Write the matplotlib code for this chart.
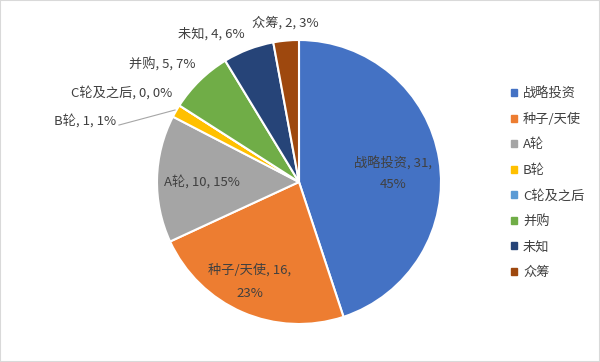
import matplotlib.pyplot as plt
from matplotlib.patches import Rectangle

plt.rcParams['font.family'] = ['Noto Sans CJK SC', 'DejaVu Sans']

categories = ["战略投资", "种子/天使", "A轮", "B轮", "C轮及之后", "并购", "未知", "众筹"]
counts = [31, 16, 10, 1, 0, 5, 4, 2]
colors = ["#4472C4", "#ED7D31", "#A5A5A5", "#FFC000", "#5B9BD5", "#70AD47", "#264478", "#9E480E"]
pcts = ["45%", "23%", "15%", "1%", "0%", "7%", "6%", "3%"]

# label positions in pie units (radius = 1), centre of text
label_pos = [(0.662, 0.06), (-0.345, -0.70), (-0.683, 0.0), (-1.507, 0.43),
             (-1.246, 0.627), (-0.965, 0.824), (-0.62, 1.04), (-0.099, 1.12)]
two_lines = [True, True, False, False, False, False, False, False]
spacing = [1.75, 2.0, 1.2, 1.2, 1.2, 1.2, 1.2, 1.2]

fig = plt.figure(figsize=(6.0, 3.62), dpi=100)
fig.patches.append(Rectangle((0, 0), 1, 1, transform=fig.transFigure,
                             fill=False, edgecolor="#D9D9D9", linewidth=1.5))

cx, cy, r = 299, 182, 142
ax = fig.add_axes([(cx - r) / 600, (362 - cy - r) / 362, 2 * r / 600, 2 * r / 362])
wedges, _ = ax.pie(counts, colors=colors, startangle=90, counterclock=False,
                   radius=1, wedgeprops=dict(edgecolor="white", linewidth=1.5))
ax.set_xlim(-1, 1)
ax.set_ylim(-1, 1)
ax.set_aspect("equal")
ax.axis("off")

for name, n, p, (x, y), two, ls in zip(categories, counts, pcts, label_pos, two_lines, spacing):
    txt = f"{name}, {n},\n{p}" if two else f"{name}, {n}, {p}"
    ax.text(x, y, txt, ha="center", va="center", fontsize=9.5, color="#404040",
            linespacing=ls, clip_on=False)

# leader line for B轮
ax.plot([-1.268, -0.873], [0.401, 0.507], color="#A6A6A6", linewidth=0.8, clip_on=False)

# legend
handles = [Rectangle((0, 0), 1, 1, color=c) for c in colors]
fig.legend(handles, categories, loc="center left", bbox_to_anchor=(0.832, 0.494),
           frameon=False, fontsize=9.5, handlelength=0.45, handleheight=0.45,
           handletextpad=0.45, labelspacing=0.95, labelcolor="#404040")

fig.savefig("out.png", dpi=100)
